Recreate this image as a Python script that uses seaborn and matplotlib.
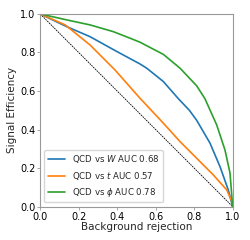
import numpy as np
import pandas as pd
import seaborn as sns
import matplotlib
matplotlib.use("Agg")
import matplotlib.pyplot as plt

w_x = [0.0, 0.138, 0.259, 0.380, 0.467, 0.519, 0.554, 0.640, 0.718, 0.775, 0.813, 0.882, 0.934, 0.977, 1.0]
w_y = [1.0, 0.934, 0.882, 0.815, 0.768, 0.740, 0.718, 0.649, 0.560, 0.500, 0.448, 0.330, 0.208, 0.087, 0.0]
t_x = [0.0, 0.130, 0.259, 0.389, 0.519, 0.640, 0.727, 0.813, 0.899, 0.969, 1.0]
t_y = [1.0, 0.943, 0.839, 0.709, 0.562, 0.433, 0.337, 0.251, 0.165, 0.087, 0.017]
p_x = [0.0, 0.138, 0.259, 0.380, 0.467, 0.519, 0.640, 0.727, 0.813, 0.856, 0.882, 0.917, 0.960, 0.986, 1.0]
p_y = [1.0, 0.969, 0.943, 0.908, 0.874, 0.853, 0.790, 0.718, 0.627, 0.560, 0.502, 0.424, 0.294, 0.175, 0.0]
labels = ["QCD vs $W$ AUC 0.68", "QCD vs $t$ AUC 0.57", "QCD vs $\\phi$ AUC 0.78"]

df = pd.concat([
    pd.DataFrame({"x": w_x, "y": w_y, "s": labels[0]}),
    pd.DataFrame({"x": t_x, "y": t_y, "s": labels[1]}),
    pd.DataFrame({"x": p_x, "y": p_y, "s": labels[2]}),
])

sns.set_style("white")
plt.rcParams['font.family'] = ['DejaVu Sans']
fig, ax = plt.subplots(figsize=(2.51, 2.40), dpi=100)
ax.plot([0, 1], [1, 0], color="black", lw=0.6, ls=(0, (2, 1)))
sns.lineplot(data=df, x="x", y="y", hue="s", palette=["#1f77b4", "#ff7f0e", "#2ca02c"],
             ax=ax, lw=1.2, sort=False, estimator=None)
ax.set_xlim(0, 1)
ax.set_ylim(0, 1)
ax.set_xlabel("Background rejection", fontsize=7.5, labelpad=0)
ax.set_ylabel("Signal Efficiency", fontsize=7.5, labelpad=2)
ax.set_xticks([0, 0.2, 0.4, 0.6, 0.8, 1.0])
ax.set_yticks([0, 0.2, 0.4, 0.6, 0.8, 1.0])
ax.tick_params(labelsize=7, length=2.5, width=0.6, pad=1, left=True, bottom=True, colors="black")
ax.tick_params(axis="both", color="#999999")
for s in ax.spines.values():
    s.set_color("#999999")
ax.legend(loc="lower left", fontsize=6.2, title=None, frameon=True, handlelength=2.0)
fig.subplots_adjust(left=0.16, right=0.927, bottom=0.139, top=0.942)
fig.savefig("out.png", dpi=100)
